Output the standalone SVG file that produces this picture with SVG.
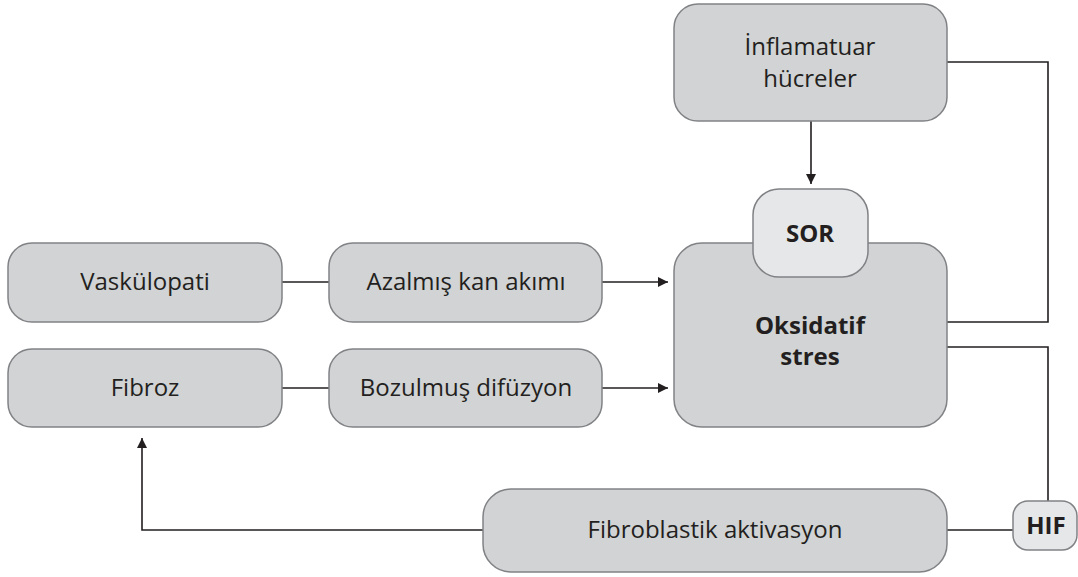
<svg xmlns="http://www.w3.org/2000/svg" width="1078" height="577" viewBox="0 0 1078 577">
<defs>
<style>
.box{fill:#d1d3d4;stroke:#808285;stroke-width:1.5}
.lt{fill:#e6e7e8;stroke:#808285;stroke-width:1.5}
.ln{fill:none;stroke:#231f20;stroke-width:1.6}
.t{font-family:"Open Sans","Noto Sans",sans-serif;font-size:24px;fill:#231f20;text-anchor:middle}
.b{font-weight:bold}
</style>
<marker id="ah" viewBox="0 0 10 10" refX="10" refY="5" markerWidth="10" markerHeight="10" markerUnits="userSpaceOnUse" orient="auto">
<path d="M0,0 L10,5 L0,10 z" fill="#231f20"/>
</marker>
</defs>
<rect width="1078" height="577" fill="#ffffff"/>
<g id="connectors">
<line class="ln" x1="811" y1="121" x2="811" y2="184" marker-end="url(#ah)"/>
<polyline class="ln" points="947,62 1048,62 1048,322 947,322"/>
<polyline class="ln" points="947,347 1048,347 1048,501"/>
<line class="ln" x1="947" y1="530" x2="1013" y2="530"/>
<polyline class="ln" points="483,530 142,530 142,438" marker-end="url(#ah)"/>
<line class="ln" x1="282" y1="282" x2="329" y2="282"/>
<line class="ln" x1="282" y1="388" x2="329" y2="388"/>
<line class="ln" x1="602" y1="282" x2="668" y2="282" marker-end="url(#ah)"/>
<line class="ln" x1="602" y1="388" x2="668" y2="388" marker-end="url(#ah)"/>
</g>
<g id="inflamatuar">
<rect class="box" x="674" y="4" width="273" height="117" rx="24"/>
<text class="t" x="810" y="55">İnflamatuar</text>
<text class="t" x="810" y="87">hücreler</text>
</g>
<g id="oksidatif">
<rect class="box" x="674" y="243" width="273" height="184" rx="28"/>
<text class="t b" x="810" y="334">Oksidatif</text>
<text class="t b" x="810" y="365">stres</text>
</g>
<g id="sor">
<rect class="lt" x="753" y="189" width="115" height="88" rx="26"/>
<text class="t b" x="810" y="242">SOR</text>
</g>
<g id="vaskulopati">
<rect class="box" x="8" y="243" width="274" height="79" rx="24"/>
<text class="t" x="145" y="290">Vaskülopati</text>
</g>
<g id="azalmis">
<rect class="box" x="329" y="243" width="273" height="79" rx="24"/>
<text class="t" x="466" y="290">Azalmış kan akımı</text>
</g>
<g id="fibroz">
<rect class="box" x="8" y="349" width="274" height="78" rx="24"/>
<text class="t" x="145" y="396">Fibroz</text>
</g>
<g id="bozulmus">
<rect class="box" x="329" y="349" width="273" height="78" rx="24"/>
<text class="t" x="466" y="396">Bozulmuş difüzyon</text>
</g>
<g id="fibroblastik">
<rect class="box" x="483" y="489" width="464" height="83" rx="28"/>
<text class="t" x="715" y="538">Fibroblastik aktivasyon</text>
</g>
<g id="hif">
<rect class="lt" x="1013" y="501" width="64" height="49" rx="15"/>
<text class="t b" x="1046" y="534">HIF</text>
</g>
</svg>
